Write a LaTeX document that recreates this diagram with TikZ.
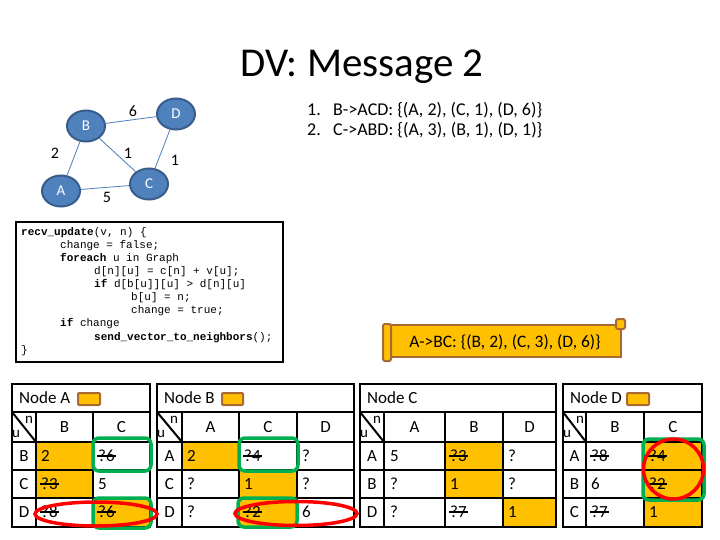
\documentclass[tikz,border=0pt]{standalone}
\usepackage{fontspec}
\setmainfont{Carlito}
\newfontfamily\codefont{Liberation Mono}
\usetikzlibrary{shapes.geometric}
\definecolor{gblue}{HTML}{4F81BD}
\definecolor{gbord}{HTML}{385D8A}
\definecolor{gline}{HTML}{4A7EBB}
\definecolor{orng}{HTML}{FFC000}
\definecolor{brn}{HTML}{A86A32}
\definecolor{grn}{HTML}{00B050}
\definecolor{redc}{HTML}{FF0000}
\tikzset{
  gnode/.style={ellipse, fill=gblue, draw=gbord, line width=2pt, minimum width=38pt, minimum height=31pt, inner sep=0pt, text=white, font=\fontsize{15}{18}\selectfont},
  gedge/.style={draw=gline, line width=0.8pt},
  elab/.style={font=\fontsize{16}{19}\selectfont, inner sep=0pt},
  msg/.style={anchor=west, font=\fontsize{18}{21}\selectfont, inner sep=0pt},
  codeln/.style={anchor=west, font=\codefont\fontsize{11}{13}\selectfont, inner sep=0pt},
  tbl/.style={line width=2pt, black},
  tt/.style={font=\fontsize{17}{20}\selectfont, inner sep=0pt},
  tv/.style={tt, anchor=west},
  small/.style={font=\fontsize{15}{17}\selectfont, inner sep=0pt},
  ofill/.style={fill=orng},
  icon/.style={draw=brn, fill=orng, line width=2pt, rounded corners=1pt},
  gring/.style={draw=grn, line width=3.5pt, rounded corners=6pt},
  rring/.style={draw=redc, line width=3.5pt},
  strike/.style={draw=black, line width=1.1pt},
}
\begin{document}
\begin{tikzpicture}[x=1pt,y=-1pt]
\useasboundingbox[fill=white] (0,0) rectangle (720,540);

% title
\node[font=\fontsize{41}{49}\selectfont, inner sep=0pt] (title) at (362,67) {DV: Message 2};

% graph
\node[gnode] (B) at (86,126) {B};
\node[gnode] (D) at (176,114) {D};
\node[gnode] (A) at (61,191) {A};
\node[gnode] (C) at (149,184) {C};
\draw[gedge] (B) -- (D);
\draw[gedge] (B) -- (A);
\draw[gedge] (B) -- (C);
\draw[gedge] (D) -- (C);
\draw[gedge] (A) -- (C);
\node[elab] (lBD) at (133,111) {6};
\node[elab] (lBA) at (55,153) {2};
\node[elab] (lBC) at (128,153) {1};
\node[elab] (lDC) at (175,160) {1};
\node[elab] (lAC) at (107,197) {5};

% message list
\node[msg] (m1n) at (307,110) {1.};
\node[msg] (m1) at (333,110) {B->ACD: \{(A, 2), (C, 1), (D, 6)\}};
\node[msg] (m2n) at (307,130) {2.};
\node[msg] (m2) at (333,130) {C->ABD: \{(A, 3), (B, 1), (D, 1)\}};

% code box
\node[draw, line width=2.5pt, minimum width=267pt, minimum height=140pt, inner sep=0pt] (codebox) at (149.5,292) {};
\node[codeln] (c1) at (21,233) {\textbf{recv\_update}(v, n) \{};
\node[codeln] (c2) at (60,246) {change = false;};
\node[codeln] (c3) at (60,259) {\textbf{foreach} u in Graph};
\node[codeln] (c4) at (94,272) {d[n][u] = c[n] + v[u];};
\node[codeln] (c5) at (94,285) {\textbf{if} d[b[u]][u] > d[n][u]};
\node[codeln] (c6) at (131,298) {b[u] = n;};
\node[codeln] (c7) at (131,311) {change = true;};
\node[codeln] (c8) at (60,324) {\textbf{if} change};
\node[codeln] (c9) at (94,338) {\textbf{send\_vector\_to\_neighbors}();};
\node[codeln] (c10) at (21,351) {\}};

% callout scroll
\draw[draw=brn, fill=orng, line width=2pt] (387,325) -- (621,325) -- (621,357) -- (387,357) -- cycle;
\draw[draw=brn, fill=orng, line width=2pt, rounded corners=2pt] (616,319) rectangle (625,329);
\draw[draw=brn, fill=orng, line width=2pt, rounded corners=2pt] (383,324) rectangle (391,361);
\node[msg, anchor=center, font=\fontsize{17.5}{20}\selectfont] (callout) at (505,342) {A->BC: \{(B, 2), (C, 3), (D, 6)\}};

% ---------- Table A ----------
\fill[ofill] (36,442) rectangle (93,470);
\fill[ofill] (36,470) rectangle (93,498);
\fill[ofill] (93,498) rectangle (150,527);
\draw[tbl] (12,384) rectangle (150,527);
\draw[tbl] (12,412) -- (150,412);
\foreach \yy in {442,470,498} \draw[tbl] (12,\yy) -- (150,\yy);
\foreach \xx in {36,93} \draw[tbl] (\xx,412) -- (\xx,527);
\draw[tbl] (12,412) -- (36,442);
\node[tt, anchor=west] (hA) at (19,398) {Node A};
\draw[icon] (78,393) rectangle (100,405);
\node[small] (nA) at (29,420) {n};
\node[small] (uA) at (16,434) {u};
\node[tt] (aB) at (64.5,427) {B};
\node[tt] (aC) at (121.5,427) {C};
\node[tt] (arB) at (24,456) {B};
\node[tt] (arC) at (24,484) {C};
\node[tt] (arD) at (24,512) {D};
\node[tv] (a11) at (41,456) {2};
\node[tv] (a12) at (98,456) {?6};
\node[tv] (a21) at (41,484) {?3};
\node[tv] (a22) at (98,484) {5};
\node[tv] (a31) at (41,512) {?8};
\node[tv] (a32) at (98,512) {?6};

% ---------- Table B ----------
\fill[ofill] (182,442) rectangle (239,470);
\fill[ofill] (239,470) rectangle (297,498);
\fill[ofill] (239,498) rectangle (297,527);
\draw[tbl] (157,384) rectangle (354,527);
\draw[tbl] (157,412) -- (354,412);
\foreach \yy in {442,470,498} \draw[tbl] (157,\yy) -- (354,\yy);
\foreach \xx in {182,239,297} \draw[tbl] (\xx,412) -- (\xx,527);
\draw[tbl] (157,412) -- (182,442);
\node[tt, anchor=west] (hB) at (164,398) {Node B};
\draw[icon] (222,393) rectangle (243,405);
\node[small] (nB) at (174,420) {n};
\node[small] (uB) at (161,434) {u};
\node[tt] (bA) at (210.5,427) {A};
\node[tt] (bC) at (268,427) {C};
\node[tt] (bD) at (325.5,427) {D};
\node[tt] (brA) at (169.5,456) {A};
\node[tt] (brC) at (169.5,484) {C};
\node[tt] (brD) at (169.5,512) {D};
\node[tv] (b11) at (187,456) {2};
\node[tv] (b12) at (244,456) {?4};
\node[tv] (b13) at (302,456) {?};
\node[tv] (b21) at (187,484) {?};
\node[tv] (b22) at (244,484) {1};
\node[tv] (b23) at (302,484) {?};
\node[tv] (b31) at (187,512) {?};
\node[tv] (b32) at (244,512) {?2};
\node[tv] (b33) at (302,512) {6};

% ---------- Table C ----------
\fill[ofill] (445,442) rectangle (503,470);
\fill[ofill] (445,470) rectangle (503,498);
\fill[ofill] (503,498) rectangle (556,527);
\draw[tbl] (360,384) rectangle (556,527);
\draw[tbl] (360,412) -- (556,412);
\foreach \yy in {442,470,498} \draw[tbl] (360,\yy) -- (556,\yy);
\foreach \xx in {384,445,503} \draw[tbl] (\xx,412) -- (\xx,527);
\draw[tbl] (360,412) -- (384,442);
\node[tt, anchor=west] (hC) at (367,398) {Node C};
\node[small] (nC) at (377,420) {n};
\node[small] (uC) at (364,434) {u};
\node[tt] (cA) at (414.5,427) {A};
\node[tt] (cB) at (474,427) {B};
\node[tt] (cD) at (529.5,427) {D};
\node[tt] (crA) at (372,456) {A};
\node[tt] (crB) at (372,484) {B};
\node[tt] (crD) at (372,512) {D};
\node[tv] (c11) at (390,456) {5};
\node[tv] (c12) at (450,456) {?3};
\node[tv] (c13) at (508,456) {?};
\node[tv] (c21) at (390,484) {?};
\node[tv] (c22) at (450,484) {1};
\node[tv] (c23) at (508,484) {?};
\node[tv] (c31) at (390,512) {?};
\node[tv] (c32) at (450,512) {?7};
\node[tv] (c33) at (508,512) {1};

% ---------- Table D ----------
\fill[ofill] (644,442) rectangle (702,527);
\draw[tbl] (563,384) rectangle (702,527);
\draw[tbl] (563,412) -- (702,412);
\foreach \yy in {442,470,498} \draw[tbl] (563,\yy) -- (702,\yy);
\foreach \xx in {586,644} \draw[tbl] (\xx,412) -- (\xx,527);
\draw[tbl] (563,412) -- (586,442);
\node[tt, anchor=west] (hD) at (570,398) {Node D};
\draw[icon] (627,393) rectangle (649,405);
\node[small] (nD) at (580,420) {n};
\node[small] (uD) at (567,434) {u};
\node[tt] (dB) at (615,427) {B};
\node[tt] (dC) at (673,427) {C};
\node[tt] (drA) at (574.5,456) {A};
\node[tt] (drB) at (574.5,484) {B};
\node[tt] (drC) at (574.5,512) {C};
\node[tv] (d11) at (591,456) {?8};
\node[tv] (d12) at (649,456) {?4};
\node[tv] (d21) at (591,484) {6};
\node[tv] (d22) at (649,484) {?2};
\node[tv] (d31) at (591,512) {?7};
\node[tv] (d32) at (649,512) {1};

% strike-throughs
\foreach \n in {a12,a21,a31,a32,b12,b32,c12,c32,d11,d12,d22,d31}
  \draw[strike] ([xshift=-1pt]\n.west) -- ([xshift=1pt]\n.east);

% green rings
\draw[gring] (93,438) rectangle (151,471);
\draw[gring] (93,498) rectangle (151,528);
\draw[gring] (239,438) rectangle (298,471);
\draw[gring] (238,498) rectangle (297,527);
\draw[gring] (643,439) rectangle (704,500);

% red rings
\draw[rring] (96,514) ellipse [x radius=61pt, y radius=12pt];
\draw[rring] (296,513.5) ellipse [x radius=61pt, y radius=12pt];
\draw[rring] (673.5,469) circle [radius=30pt];
\end{tikzpicture}
\end{document}
